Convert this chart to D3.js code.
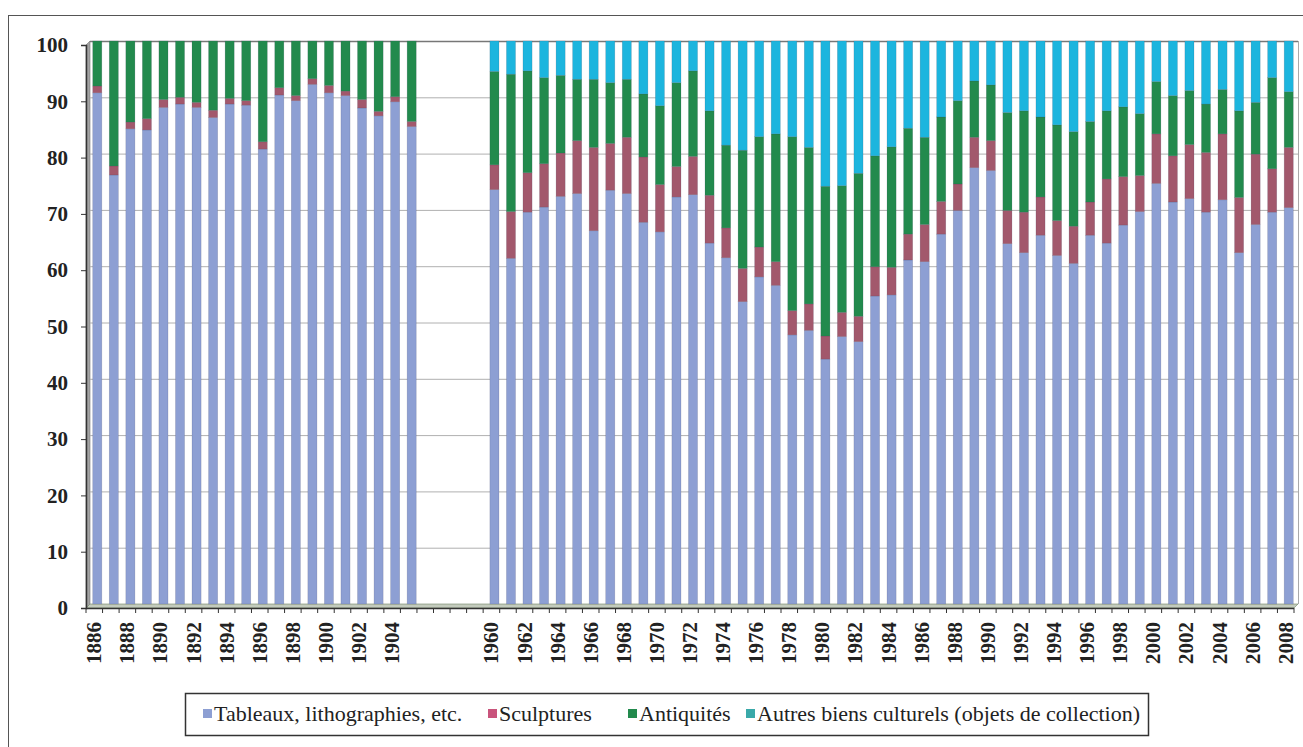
<!DOCTYPE html>
<meta charset="utf-8">

<!-- Load d3.js -->
<script src="https://cdn.jsdelivr.net/npm/d3@7"></script>

<style>
  body { margin: 0; background: #fff; }
  text { font-family: "Liberation Serif", "Times New Roman", serif; }
</style>

<!-- Create a div where the graph will take place -->
<div id="my_dataviz"></div>

<script>

// categories: two runs of years with four empty slots between them
var yearsEarly = ["1886","1887","1888","1889","1890","1891","1892","1893","1894","1895",
                  "1896","1897","1898","1899","1900","1901","1902","1903","1904","1905"];
var gapSlots = ["gap1","gap2","gap3","gap4"];
var yearsLate = ["1960","1961","1962","1963","1964","1965","1966","1967","1968","1969",
                 "1970","1971","1972","1973","1974","1975","1976","1977","1978","1979",
                 "1980","1981","1982","1983","1984","1985","1986","1987","1988","1989",
                 "1990","1991","1992","1993","1994","1995","1996","1997","1998","1999",
                 "2000","2001","2002","2003","2004","2005","2006","2007","2008"];

// shares in %, same order as yearsEarly then yearsLate
var tableaux = [90.8, 76.2, 84.4, 84.2, 88.2, 88.8, 88.2, 86.4, 88.8, 88.6,
                80.8, 90.4, 89.4, 92.3, 90.8, 90.3, 88.1, 86.7, 89.2, 84.8,
                73.6, 61.4, 69.6, 70.5, 72.4, 72.9, 66.3, 73.5, 72.9, 67.8,
                66.1, 72.3, 72.7, 64.1, 61.5, 53.7, 58.1, 56.6, 47.8, 48.6,
                43.5, 47.5, 46.6, 54.7, 54.9, 61.1, 60.8, 65.7, 69.9, 77.5,
                77.0, 64.0, 62.4, 65.5, 61.9, 60.5, 65.5, 64.1, 67.3, 69.7,
                74.7, 71.4, 72.0, 69.6, 71.8, 62.4, 67.4, 69.6, 70.4];
var sculptures = [1.2, 1.6, 1.2, 2.0, 1.4, 1.2, 0.9, 1.3, 1.0, 0.8,
                  1.3, 1.3, 0.9, 1.0, 1.3, 0.8, 1.5, 0.8, 0.9, 0.9,
                  4.4, 8.3, 7.0, 7.7, 7.7, 9.4, 14.8, 8.3, 10.0, 11.6,
                  8.4, 5.4, 6.8, 8.5, 5.3, 5.9, 5.3, 4.2, 4.3, 4.7,
                  4.1, 4.3, 4.5, 5.2, 4.9, 4.6, 6.6, 5.8, 4.7, 5.4,
                  5.3, 5.9, 7.2, 6.8, 6.2, 6.6, 5.9, 11.4, 8.6, 6.4,
                  8.8, 8.2, 9.6, 10.6, 11.7, 9.8, 12.5, 7.7, 10.7];
var antiquites = [8.0, 22.2, 14.4, 13.8, 10.4, 10.0, 10.9, 12.3, 10.2, 10.6,
                  17.9, 8.3, 9.7, 6.7, 7.9, 8.9, 10.4, 12.5, 9.9, 14.3,
                  16.6, 24.4, 18.1, 15.3, 13.8, 10.9, 12.1, 10.8, 10.3, 11.2,
                  14.0, 14.9, 15.2, 15.0, 14.7, 21.0, 19.6, 22.7, 30.9, 27.8,
                  26.6, 22.5, 25.4, 19.7, 21.4, 18.8, 15.5, 15.0, 14.8, 10.0,
                  9.9, 17.4, 18.0, 14.2, 17.0, 16.8, 14.3, 12.1, 12.4, 11.0,
                  9.3, 10.7, 9.6, 8.6, 7.9, 15.4, 9.2, 16.2, 9.9];
var autres = [0, 0, 0, 0, 0, 0, 0, 0, 0, 0,
              0, 0, 0, 0, 0, 0, 0, 0, 0, 0,
              5.4, 5.9, 5.3, 6.5, 6.1, 6.8, 6.8, 7.4, 6.8, 9.4,
              11.5, 7.4, 5.3, 12.4, 18.5, 19.4, 17.0, 16.5, 17.0, 18.9,
              25.8, 25.7, 23.5, 20.4, 18.8, 15.5, 17.1, 13.5, 10.6, 7.1,
              7.8, 12.7, 12.4, 13.5, 14.9, 16.1, 14.3, 12.4, 11.7, 12.9,
              7.2, 9.7, 8.8, 11.2, 8.6, 12.4, 10.9, 6.5, 9.0];

var yTicks = [0, 10, 20, 30, 40, 50, 60, 70, 80, 90, 100];

var seriesNames = ["Tableaux, lithographies, etc.", "Sculptures", "Antiquités",
                   "Autres biens culturels (objets de collection)"];
var keys = ["tab", "scu", "ant", "aut"];
var barColors = ["#8d9fd3", "#a2586c", "#228a4d", "#1cb5de"];
var legendColors = ["#8d9fd3", "#c9547c", "#228a4d", "#3aa9a9"];

var width = 1303, height = 747;

var categories = yearsEarly.concat(gapSlots, yearsLate);
var barYears = yearsEarly.concat(yearsLate);

var rows = barYears.map(function(y, i) {
  return {year: y, tab: tableaux[i], scu: sculptures[i], ant: antiquites[i], aut: autres[i]};
});
var stacked = d3.stack().keys(keys)(rows);

var svg = d3.select("#my_dataviz")
  .append("svg")
    .attr("width", width)
    .attr("height", height);

// outer frame
svg.append("rect")
    .attr("x", 8.5).attr("y", 15.5)
    .attr("width", 1320).attr("height", 800)
    .style("fill", "none")
    .style("stroke", "#555")
    .style("stroke-width", 1);

// front axis (labels) and back wall (bars) scales, 3d offset
var depthX = 4, depthY = 4;
var xScale = d3.scaleBand().domain(categories).range([86, 1294]);
var yFront = d3.scaleLinear().domain([0, 100]).range([608, 45]);
var yBack = d3.scaleLinear().domain([0, 100]).range([608 - depthY, 45 - depthY]);

var left = 86, right = 1294;

// left wall
svg.append("polygon")
    .attr("points", [[left, yFront(100)], [left + depthX, yBack(100)], [left + depthX, yBack(0)], [left, yFront(0)]].join(" "))
    .style("fill", "#a3a3a3")
    .style("stroke", "#777")
    .style("stroke-width", 0.6);

// floor
svg.append("polygon")
    .attr("points", [[left, yFront(0)], [left + depthX, yBack(0)], [right + depthX, yBack(0)], [right, yFront(0)]].join(" "))
    .style("fill", "#c3cbbd")
    .style("stroke", "#6f8466")
    .style("stroke-width", 0.6);

// gridlines on back wall
svg.selectAll(".grid")
  .data(yTicks.filter(function(d) { return d > 0; }))
  .enter()
  .append("line")
    .attr("class", "grid")
    .attr("x1", left + depthX).attr("x2", right + depthX)
    .attr("y1", function(d) { return yBack(d) + 0.5; })
    .attr("y2", function(d) { return yBack(d) + 0.5; })
    .style("stroke", function(d) { return d == 100 ? "#777" : "#b0b0b0"; })
    .style("stroke-width", function(d) { return d == 100 ? 1.3 : 1; });

// right edge of back wall
svg.append("line")
    .attr("x1", right + depthX + 0.5).attr("x2", right + depthX + 0.5)
    .attr("y1", yBack(100)).attr("y2", yBack(0))
    .style("stroke", "#aaa");

// bars
var barW = xScale.bandwidth() * 0.55;
svg.selectAll(".serie")
  .data(stacked)
  .enter()
  .append("g")
    .attr("class", "serie")
    .style("fill", function(d, i) { return barColors[i]; })
  .selectAll("rect")
  .data(function(d) { return d; })
  .enter()
  .append("rect")
    .attr("x", function(d) { return xScale(d.data.year) + xScale.bandwidth() / 2 + depthX - 1 - barW / 2; })
    .attr("y", function(d) { return yBack(d[1]); })
    .attr("width", barW)
    .attr("height", function(d) { return yBack(d[0]) - yBack(d[1]); })
    .style("stroke", "rgba(60,60,90,0.25)")
    .style("stroke-width", 0.6);

// y axis
svg.append("g")
    .attr("transform", "translate(" + left + ",0)")
    .call(d3.axisLeft(yFront).tickValues(yTicks).tickSize(5).tickPadding(13))
    .call(function(g) {
      g.select(".domain").style("stroke", "#333").style("stroke-width", 1.5);
      g.selectAll(".tick line").style("stroke", "#333");
      g.selectAll("text")
        .style("font-family", "'Liberation Serif', serif")
        .style("font-size", "21px")
        .style("font-weight", "bold")
        .style("fill", "#222");
    });

// x axis: ticks between categories
svg.append("line")
    .attr("x1", left).attr("x2", right)
    .attr("y1", yFront(0) + 0.5).attr("y2", yFront(0) + 0.5)
    .style("stroke", "#333")
    .style("stroke-width", 1.5);

svg.selectAll(".xtick")
  .data(categories.concat(["end"]))
  .enter()
  .append("line")
    .attr("class", "xtick")
    .attr("x1", function(d) { return d == "end" ? right : xScale(d); })
    .attr("x2", function(d) { return d == "end" ? right : xScale(d); })
    .attr("y1", yFront(0))
    .attr("y2", yFront(0) + 5)
    .style("stroke", "#333");

svg.selectAll(".xlabel")
  .data(categories.filter(function(d) { return d.indexOf("gap") < 0 && (+d) % 2 == 0; }))
  .enter()
  .append("text")
    .attr("class", "xlabel")
    .attr("transform", function(d) {
      return "translate(" + (xScale(d) + xScale.bandwidth() / 2 + 7) + "," + (yFront(0) + 14) + ") rotate(-90)";
    })
    .style("text-anchor", "end")
    .style("font-size", "21px")
    .style("font-weight", "bold")
    .style("fill", "#222")
    .text(function(d) { return d; });

// legend
var legendX = [214, 499, 639, 757];
svg.append("rect")
    .attr("x", 185.5).attr("y", 693.5)
    .attr("width", 963).attr("height", 42)
    .style("fill", "#fff")
    .style("stroke", "#333")
    .style("stroke-width", 1.5);

for (var j = 0; j < seriesNames.length; j++) {
  svg.append("rect")
      .attr("x", legendX[j] - 11)
      .attr("y", 709)
      .attr("width", 9)
      .attr("height", 9)
      .style("fill", legendColors[j]);
  svg.append("text")
      .attr("x", legendX[j])
      .attr("y", 721)
      .style("font-size", "22px")
      .style("fill", "#222")
      .text(seriesNames[j]);
}

</script>
